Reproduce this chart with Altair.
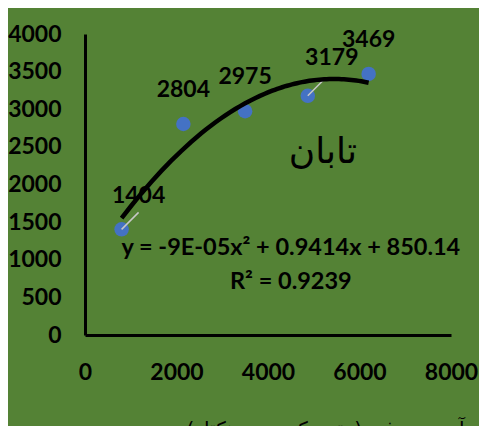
import altair as alt
import pandas as pd

# data
water = [800, 2150, 3500, 4870, 6200]
yield_ = [1404, 2804, 2975, 3179, 3469]
label_text = ["1404", "2804", "2975", "3179", "3469"]
y_ticks = [0, 500, 1000, 1500, 2000, 2500, 3000, 3500, 4000]
x_ticks = [0, 2000, 4000, 6000, 8000]

df = pd.DataFrame({"x": water, "y": yield_, "lab": label_text})

BG = "#548235"
FONT = "Lato"
FS = 23

xs = alt.Scale(domain=[0, 8000], nice=False)
ys = alt.Scale(domain=[0, 4000], nice=False)

XAX = alt.Axis(
    values=x_ticks, format="d", title="آب مصرفی (متر مکعب در هکتار)",
    grid=False, ticks=False, domainColor="black", domainWidth=3,
    labelFont=FONT, labelFontWeight="bold", labelFontSize=FS, labelColor="black",
    labelPadding=26, labelFlush=False, labelOverlap=False,
    titleFont="DejaVu Sans", titleFontSize=20, titleFontWeight="normal", titleColor="black",
    titleBaseline="top", titleY=84, titleX=240, titleAnchor="start", titleAlign="center")
YAX = alt.Axis(
    values=y_ticks, format="d", title=None,
    grid=False, ticks=False, domainColor="black", domainWidth=3,
    labelFont=FONT, labelFontWeight="bold", labelFontSize=FS, labelColor="black",
    labelPadding=24, labelFlush=False, labelOverlap=False)

XE = alt.X("x:Q", scale=xs, axis=XAX)
YE = alt.Y("y:Q", scale=ys, axis=YAX)

base = alt.Chart(df)

leaders = base.mark_rule(color="#c8c8c8", strokeWidth=1.5, x2Offset=17, y2Offset=-17).encode(
    x=XE, y=YE, x2="x:Q", y2="y:Q"
).transform_filter(alt.FieldOneOfPredicate(field="lab", oneOf=["1404", "3179"]))

points = base.mark_circle(size=210, color="#4472C4", opacity=1).encode(x=XE, y=YE)

trend = base.transform_regression("x", "y", method="poly", order=2).mark_line(
    color="black", strokeWidth=4.5).encode(x=XE, y=YE)

def labels(sel, dx, dy):
    return base.mark_text(font=FONT, fontWeight="bold", fontSize=FS, color="black",
                          baseline="middle", dx=dx, dy=dy).encode(
        x=XE, y=YE, text="lab:N"
    ).transform_filter(alt.FieldOneOfPredicate(field="lab", oneOf=sel))

lab_main = labels(["2804", "2975", "3469"], 0, -34)
lab_a = labels(["1404"], 17, -33)
lab_b = labels(["3179"], 24, -38)

def note(txt, xv, yv, **kw):
    return alt.Chart().mark_text(color="black", baseline="middle", **kw).encode(
        x=alt.X(datum=xv, scale=xs, axis=XAX), y=alt.Y(datum=yv, scale=ys, axis=YAX),
        text=alt.value(txt))

taban = note("تابان", 5200, 2430, font="DejaVu Sans", fontSize=36)
eq = note("y = -9E-05x² + 0.9414x + 850.14", 4500, 1160, font=FONT, fontWeight="bold", fontSize=23.5)
r2 = note("R² = 0.9239", 4500, 705, font=FONT, fontWeight="bold", fontSize=23.5)

chart = alt.layer(points, leaders, trend, lab_main, lab_a, lab_b, taban, eq, r2).properties(
    width=366, height=301, background=BG,
    autosize=alt.AutoSizeParams(type="none"),
    padding={"left": 77, "top": 26, "right": 28, "bottom": 91},
).configure_view(stroke=None)

chart.save("out.html", embed_options={"renderer": "svg", "actions": False})
